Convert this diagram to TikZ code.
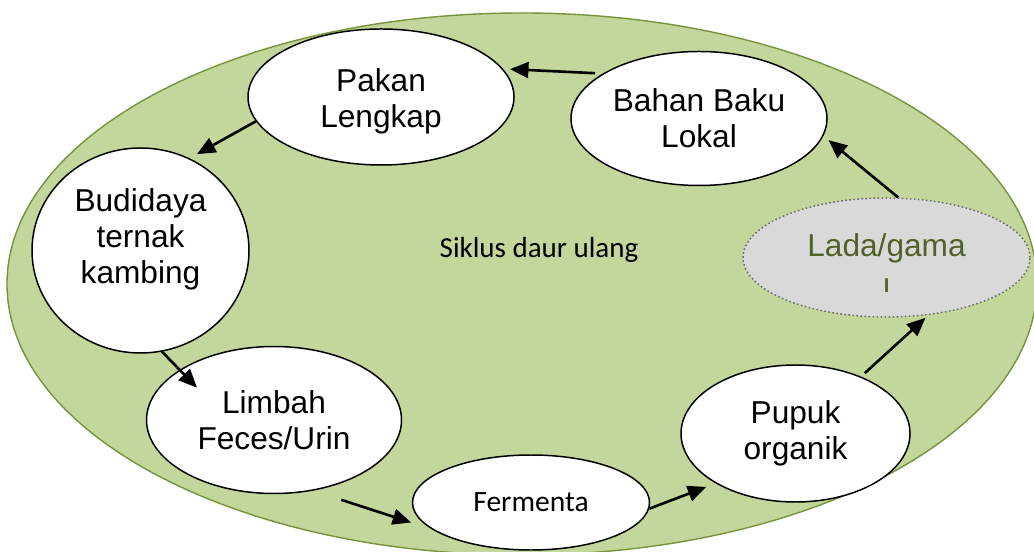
\documentclass[tikz,border=0pt]{standalone}
\usepackage{fontspec}
\usepackage{graphicx}
\setmainfont{Liberation Sans}
\newfontfamily\calibri{Carlito}
\usetikzlibrary{arrows.meta,shapes.geometric}

\definecolor{daun}{HTML}{C3D69B}
\definecolor{daungelap}{HTML}{77933C}
\definecolor{abu}{HTML}{D9D9D9}
\definecolor{abutua}{HTML}{6A6A6A}
\definecolor{zaitun}{HTML}{4F6228}

\begin{document}
\begin{tikzpicture}[
    siklus/.style={ellipse, draw, line width=0.85pt, fill=white, inner sep=0pt,
        align=center, font=\fontsize{18}{20.5}\selectfont},
    panah/.style={-{Triangle[length=10.5pt,width=9pt]}, line width=1.5pt},
]
    \useasboundingbox (0, 0) rectangle (20.68, -11.04);
    \clip (0, 0) rectangle (20.68, -11.04);

    % 背景大椭圆
    \draw[daungelap, fill=daun, line width=0.8pt] (10.44, -5.68) ellipse (10.30 and 5.42);
    \node (judul) at (10.78, -5.0) {\calibri\fontsize{16.5}{19}\selectfont Siklus daur ulang};

    % 各环节
    \node[siklus, minimum width=5.32cm, minimum height=2.72cm] (pakan) at (7.62, -1.94) {\rule{0pt}{17.7pt}Pakan\\Lengkap};
    \node[siklus, minimum width=5.12cm, minimum height=2.68cm] (bahan) at (13.98, -2.37) {Bahan Baku\\Lokal};
    \node[siklus, minimum width=4.34cm, minimum height=4.10cm, text depth=16.3pt] (budidaya) at (2.81, -5.01) {Budidaya\\ternak\\kambing};
    \node[siklus, minimum width=5.10cm, minimum height=2.94cm] (limbah) at (5.48, -8.40) {Limbah\\Feces/Urin};
    \node[siklus, minimum width=4.74cm, minimum height=1.90cm, font=\calibri\fontsize{16.8}{19}\selectfont] (fermenta) at (10.62, -10.05) {Fermenta};
    \node[siklus, minimum width=4.58cm, minimum height=2.74cm] (pupuk) at (15.91, -8.67) {Pupuk\\organik};
    \node[siklus, minimum width=5.74cm, minimum height=2.38cm, draw=abutua, fill=abu, text=zaitun,
        dash pattern=on 0.9pt off 1.4pt] (lada) at (17.73, -5.15) {\rule{0pt}{18.8pt}Lada/gama\\\scalebox{1}[0.6]{l}};

    % 箭头
    \draw[panah, shorten <=0.15cm, shorten >=0.14cm] (bahan.155) -- (pakan.13.8);
    \draw[panah, shorten >=0.17cm] (pakan.191.8) -- (budidaya.62.5);
    \draw[panah, shorten >=-0.5cm] (budidaya.282.7) -- (limbah.152.9);
    \draw[panah, shorten <=0.59cm, shorten >=0.43cm] (limbah.299.8) -- (fermenta.195.6);
    \draw[panah, shorten >=0.2cm] (fermenta.357.6) -- (pupuk.212.7);
    \draw[panah, shorten <=0.1cm, shorten >=0.08cm] (pupuk.41.9) -- (lada.306.8);
    \draw[panah, shorten >=0.13cm] (lada.79.6) -- (bahan.352.1);
\end{tikzpicture}
\end{document}
